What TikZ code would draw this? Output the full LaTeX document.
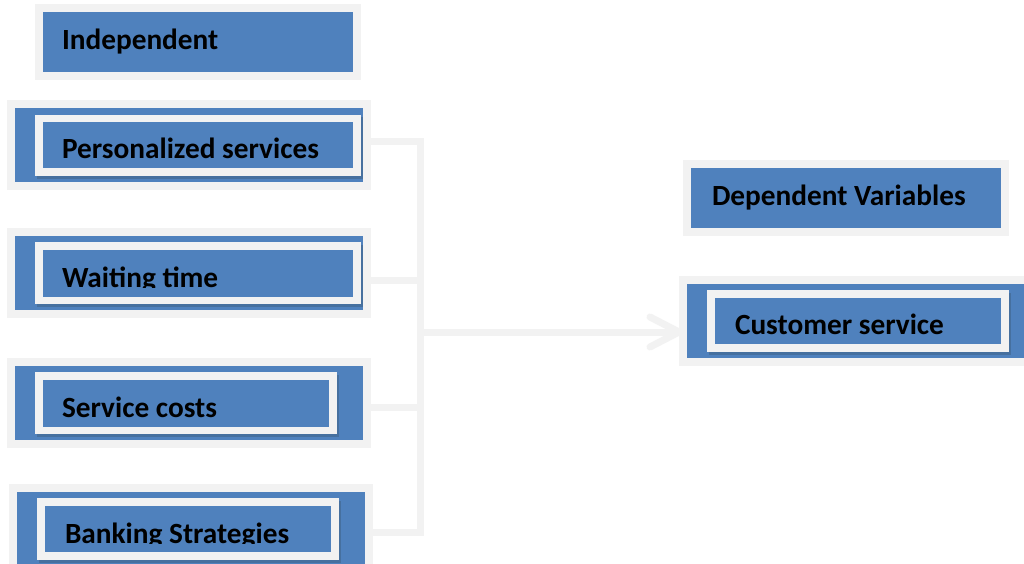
\documentclass[tikz,border=0pt]{standalone}
\usepackage{fontspec}
\setmainfont{Carlito}
\definecolor{boxblue}{HTML}{4F81BD}
\definecolor{lgray}{HTML}{F2F2F2}
\definecolor{shadowblue}{HTML}{46709F}
\tikzset{
  rect/.style={rectangle, inner sep=0pt, outer sep=0pt, draw=none},
  grayfill/.style={fill=lgray},
  bluefill/.style={fill=boxblue},
  shadowfill/.style={fill=shadowblue},
  label/.style={inner sep=0pt, outer sep=0pt, anchor=base west, text=black, font=\fontsize{29.3}{35}\selectfont\bfseries},
  conn/.style={draw=lgray, line width=7pt},
}
\begin{document}
\begin{tikzpicture}[x=1pt,y=-1pt]
\useasboundingbox[fill=white] (0,0) rectangle (1024,564);

% Independent
\fill[grayfill] (35,4) rectangle (361,80);
\node[rect, bluefill, minimum width=310pt, minimum height=60pt] (ind) at (198,42) {};
\node[label] (indt) at (62,50) {Independent};

% Personalized services
\node[rect, grayfill, minimum width=364pt, minimum height=90pt] (ps) at (189,145) {};
\fill[bluefill] (15,108) rectangle (363,182);
\fill[shadowfill] (37,117) rectangle (363,178.5);
\fill[grayfill] (35,115) rectangle (361,176);
\fill[bluefill] (43,122) rectangle (353,168);
\begin{scope}
\clip (43,110) rectangle (353,158.5);
\node[label] (pst) at (62,158.5) {Personalized services};
\end{scope}

% Waiting time
\node[rect, grayfill, minimum width=364pt, minimum height=90pt] (wt) at (189,273) {};
\fill[bluefill] (15,236) rectangle (363,310);
\fill[shadowfill] (37,245) rectangle (363,306.5);
\fill[grayfill] (35,242) rectangle (361,304);
\fill[bluefill] (43,250) rectangle (353,297);
\begin{scope}
\clip (43,240) rectangle (353,287);
\node[label] (wtt) at (62,287.5) {Waiting time};
\end{scope}

% Service costs
\node[rect, grayfill, minimum width=364pt, minimum height=90pt] (sc) at (189,403) {};
\fill[bluefill] (15,366) rectangle (363,440);
\fill[shadowfill] (37,375) rectangle (339,436.5);
\fill[grayfill] (35,372) rectangle (337,434);
\fill[bluefill] (43,380) rectangle (329,427);
\begin{scope}
\clip (43,370) rectangle (329,417.5);
\node[label] (sct) at (62,417.5) {Service costs};
\end{scope}

% Banking Strategies
\node[rect, grayfill, minimum width=364pt, minimum height=90pt] (bs) at (191,529) {};
\fill[bluefill] (17,492) rectangle (365,566);
\fill[shadowfill] (39,501) rectangle (341,562.5);
\fill[grayfill] (37,498) rectangle (339,560);
\fill[bluefill] (45,506) rectangle (331,552);
\begin{scope}
\clip (45,496) rectangle (331,543);
\node[label] (bst) at (65,543.5) {Banking Strategies};
\end{scope}

% Dependent Variables
\fill[grayfill] (683,160) rectangle (1009,236);
\node[rect, bluefill, minimum width=310pt, minimum height=60pt] (dv) at (846,198) {};
\node[label] (dvt) at (712,205.5) {Dependent Variables};

% Customer service
\node[rect, grayfill, minimum width=365pt, minimum height=90pt] (cs) at (861.5,321) {};
\fill[bluefill] (687,284) rectangle (1036,358);
\fill[shadowfill] (709,293) rectangle (1011,354.5);
\fill[grayfill] (707,290) rectangle (1009,352);
\fill[bluefill] (715,298) rectangle (1001,344);
\begin{scope}
\clip (715,288) rectangle (1001,334);
\node[label] (cst) at (735,334) {Customer service};
\end{scope}

% connectors
\coordinate (jt) at (420,142);
\coordinate (jb) at (420,536);
\coordinate (jm) at (420,332);
\draw[conn] (ps.east |- jt) -- (423.5,142);
\draw[conn] (jt) -- (jb);
\draw[conn] (wt.east) ++(0,7) -- (420,280);
\draw[conn] (sc.east) ++(0,4) -- (420,407);
\draw[conn] (bs.east) ++(0,3) -- (423.5,532);
\draw[conn] (jm) -- (jm -| cs.west);
\draw[conn, line cap=round, line join=round] ([shift={(-29pt,-15pt)}]jm -| cs.west) -- (jm -| cs.west) -- ([shift={(-29pt,15pt)}]jm -| cs.west);
\end{tikzpicture}
\end{document}
